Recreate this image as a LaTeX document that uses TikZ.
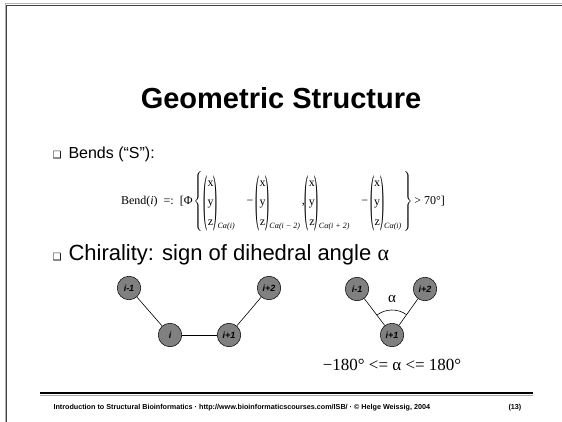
\documentclass[tikz,border=0pt]{standalone}
\usepackage{graphicx}
\usepackage{fontspec}
\setmainfont{Liberation Serif}
\setsansfont{Liberation Sans}
\newfontfamily\dejavu{DejaVu Sans}
\newcommand\tparen[1]{\raisebox{-13.9pt}{\scalebox{1}[5.2]{#1}}}
\newcommand\vxyz[1]{\tparen({\renewcommand\arraystretch{1.35}\begin{tabular}{@{}c@{}}x\\y\\z\end{tabular}}\tparen)\raisebox{-24pt}{\fontsize{8}{9}\selectfont\itshape #1}}
\newcommand\bigbrace[1]{$\left#1\vrule height 31pt depth 27pt width 0pt\right.$}
\newcommand\bigbraceR[1]{$\left.\vrule height 31pt depth 27pt width 0pt\right#1$}
\tikzset{
  atom/.style={circle, draw=black, line width=0.5pt, fill=black!50, minimum size=23.5pt, inner sep=0pt,
    font=\sffamily\bfseries\itshape\fontsize{9}{10}\selectfont},
  bond/.style={draw=black, line width=0.6pt},
  bulletmark/.style={anchor=base west, font=\dejavu\fontsize{10}{12}\selectfont},
  bullettext/.style={anchor=base west, font=\sffamily\fontsize{16}{19}\selectfont},
}
\begin{document}
\begin{tikzpicture}[x=1pt,y=-1pt]
\useasboundingbox (0,0) rectangle (562,422);
\fill[white] (0,0) rectangle (562,422);
% frame
\draw[black!30, line width=1pt] (5,422) -- (5,4) -- (562,4);
\draw[black!75, line width=1.3pt] (6.5,422) -- (6.5,5.5) -- (562,5.5);
% title
\node[font=\sffamily\bfseries\fontsize{29}{34}\selectfont] (title) at (281,98) {Geometric Structure};
% bullet 1
\node[bulletmark] (b1) at (49,159) {❑};
\node[bullettext] (t1) at (65,159) {Bends (“S”):};
% formula
\node[font=\fontsize{12}{14.4}\selectfont, inner sep=0pt] (bend) at (283,202)
 {Bend(\textit{i})\ \ =:\ \ [Φ\hspace{1pt}\bigbrace\{\vxyz{Cα(i)}\hspace{12pt}−\hspace{2pt}\vxyz{Cα(i − 2)}\hspace{2pt},\vxyz{Cα(i + 2)}\hspace{12pt}−\hspace{2pt}\vxyz{Cα(i)}\hspace{1pt}\bigbraceR\}\,> 70°]};
% bullet 2
\node[bulletmark] (b2) at (49,260) {❑};
\node[bullettext, font=\sffamily\fontsize{22}{26}\selectfont] (t2) at (65,260) {Chirality: sign of dihedral angle {\rmfamily α}};
% left chain
\node[atom] (l1) at (129,288) {i-1};
\node[atom] (l2) at (170,335) {i};
\node[atom] (l3) at (229,335) {i+1};
\node[atom] (l4) at (269,288) {i+2};
\draw[bond] (l1) -- (l2);
\draw[bond] (l2) -- (l3);
\draw[bond] (l3) -- (l4);
% right projection
\node[atom] (r1) at (357,289) {i-1};
\node[atom] (r2) at (392,335) {i+1};
\node[atom] (r3) at (425,289) {i+2};
\draw[bond] (r1) -- (r2);
\draw[bond] (r2) -- (r3);
\draw[bond] (r2) ++(127.3:25pt) arc[start angle=127.3, end angle=54.3, radius=25pt];
\node[font=\fontsize{15}{18}\selectfont] (alpha) at (392,299) {α};
\node[font=\fontsize{17}{20}\selectfont] (range) at (392,365) {−180° <= α <= 180°};
% footer
\draw[black!35, line width=1pt] (40,395) -- (533,395);
\draw[black, line width=2.2pt] (40,393) -- (533,393);
\node[anchor=base west, font=\sffamily\bfseries\fontsize{7.2}{8.5}\selectfont] (foot) at (50,409)
 {Introduction to Structural Bioinformatics · http://www.bioinformaticscourses.com/ISB/ · © Helge Weissig, 2004};
\node[anchor=base west, font=\sffamily\bfseries\fontsize{7.2}{8.5}\selectfont] (page) at (505,409) {(13)};
\end{tikzpicture}
\end{document}
